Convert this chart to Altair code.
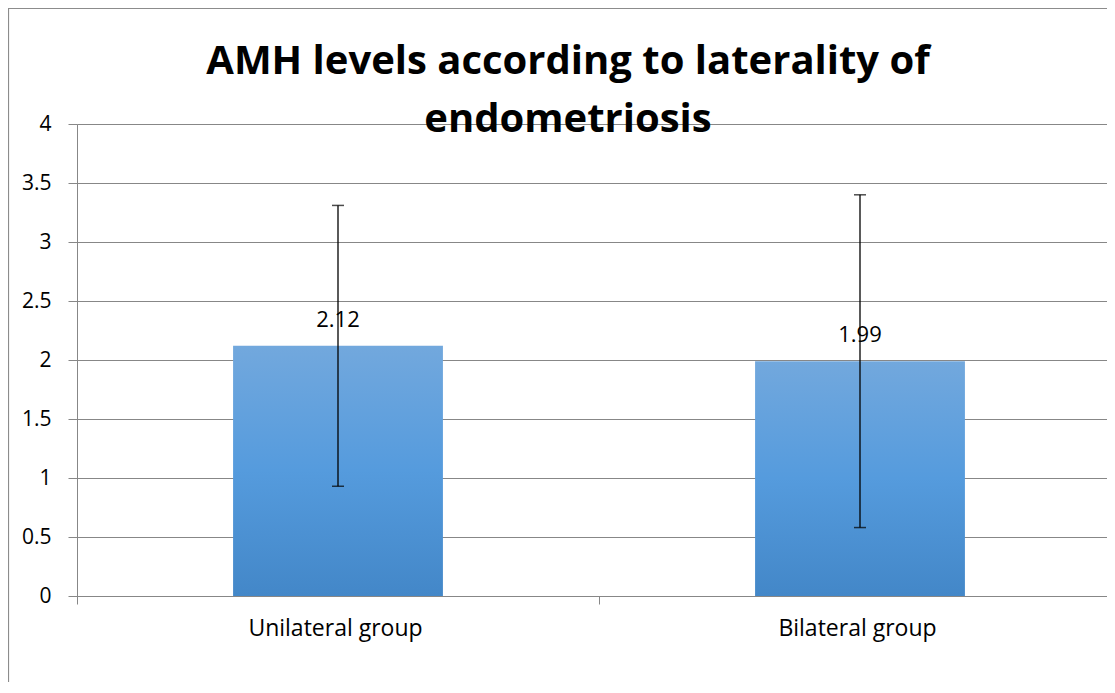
import altair as alt
import pandas as pd

groups = ["Unilateral group", "Bilateral group"]
means = [2.12, 1.99]
sds = [1.19, 1.41]
value_labels = ["2.12", "1.99"]
y_ticks = [0, 0.5, 1, 1.5, 2, 2.5, 3, 3.5, 4]
title_lines = ["AMH levels according to laterality of", "endometriosis"]

df = pd.DataFrame({"group": groups, "mean": means, "sd": sds, "label": value_labels})
df["lo"] = df["mean"] - df["sd"]
df["hi"] = df["mean"] + df["sd"]

FONT = "Open Sans"
GRID = "#878787"

x_enc = alt.X(
    "group:N",
    sort=groups,
    scale=alt.Scale(paddingInner=0, paddingOuter=0),
    axis=alt.Axis(
        title=None, labelAngle=0, tickBand="extent", labelFont=FONT, labelFontSize=23,
        labelColor="#000000", labelPadding=13, tickSize=8, tickColor=GRID,
        domainColor=GRID, labelFontWeight="normal", labelOffset=-3,
    ),
)
y_scale = alt.Scale(domain=[0, 4], nice=False)
y_axis = alt.Axis(
    title=None, values=y_ticks, format="~f", labelFont=FONT, labelFontSize=21,
    labelColor="#000000", labelPadding=17, tickSize=9, tickColor=GRID,
    domainColor=GRID, gridColor=GRID, gridWidth=1, grid=True,
)

grad = alt.LinearGradient(
    gradient="linear",
    stops=[
        alt.GradientStop(color="#72A8DD", offset=0),
        alt.GradientStop(color="#559BDD", offset=0.5),
        alt.GradientStop(color="#4387C8", offset=1),
    ],
    x1=0, x2=0, y1=0, y2=1,
)

base = alt.Chart(df)

bars = base.mark_bar(color=grad, width=alt.RelativeBandSize(0.402)).encode(
    x=x_enc,
    y=alt.Y("mean:Q", scale=y_scale, axis=y_axis),
)
rules = base.mark_rule(color="#000000", strokeWidth=1.3).encode(
    x=alt.X("group:N", sort=groups), y="lo:Q", y2="hi:Q"
)
caps_lo = base.mark_tick(color="#000000", size=12, thickness=1.5).encode(
    x=alt.X("group:N", sort=groups), y="lo:Q"
)
caps_hi = base.mark_tick(color="#000000", size=12, thickness=1.5).encode(
    x=alt.X("group:N", sort=groups), y="hi:Q"
)
texts = base.mark_text(
    dy=-19, baseline="alphabetic", font=FONT, fontSize=22, color="#000000"
).encode(x=alt.X("group:N", sort=groups), y="mean:Q", text="label:N")

frame = alt.Chart(pd.DataFrame({"k": [0]})).mark_rect(
    filled=False, stroke="#8C8C8C", strokeWidth=1.2
).encode(
    x=alt.value(-68.5), x2=alt.value(1200), y=alt.value(-115.5), y2=alt.value(800)
)

chart = alt.layer(frame, bars, rules, caps_lo, caps_hi, texts).properties(
    width=1044,
    height=472,
    autosize=alt.AutoSizeParams(type="none"),
    padding={"left": 69, "top": 116, "right": -14, "bottom": 86},
    title=alt.TitleParams(
        text=title_lines, font=FONT, fontSize=40, fontWeight="bold", color="#000000",
        anchor="middle", dx=-31, lineHeight=58, offset=-132,
    ),
).configure_view(stroke=None).configure(background="#FFFFFF")

chart.save("out.html", embed_options={"renderer": "svg", "actions": False})
